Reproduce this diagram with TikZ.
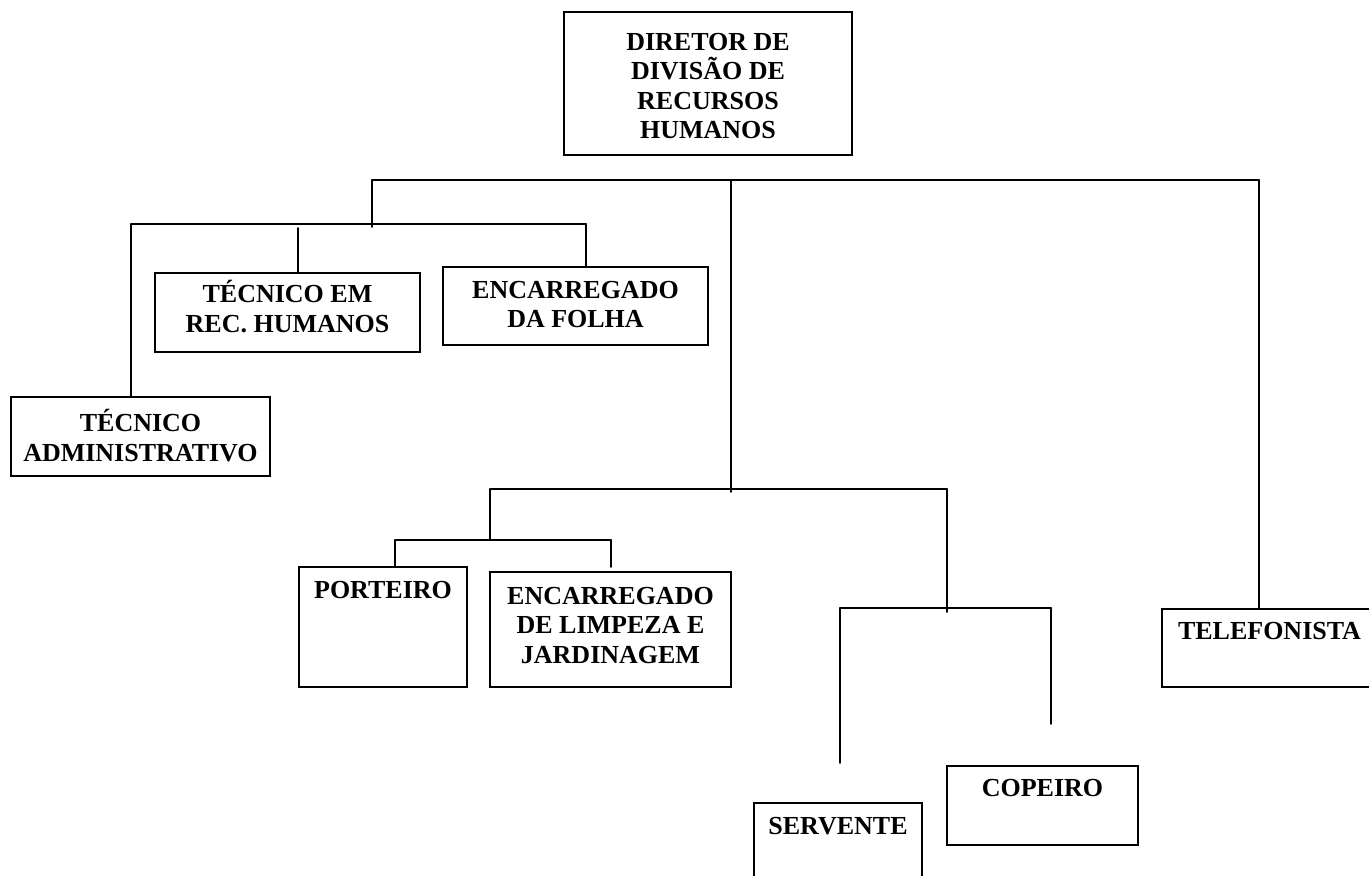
\documentclass[tikz,border=0pt]{standalone}
\usepackage{fontspec}
\setmainfont{Liberation Serif}
\usepackage{pgf,tikz}
\usetikzlibrary{positioning}
\tikzset{
  caixa/.style={draw,line width=1.9pt,inner sep=0pt},
  texto/.style={inner sep=0pt,align=center,font=\fontsize{26}{29.5}\selectfont\bfseries},
  linha/.style={line width=1.7pt}
}

\begin{document}
\begin{tikzpicture}[line cap=round,x=1pt,y=-1pt]
\useasboundingbox (0,0) rectangle (1369,876);
%caixas
\foreach \nome/\cx/\cy/\lx/\ly in {dir/708/83.5/288/143, tec/287.5/312.5/265/79, folha/575.5/306/265/78, adm/140.5/436.5/259/79, port/383/627/168/120, limp/610.5/629.5/241/115, serv/838/863/168/120, cope/1042.5/805.5/191/79, tel/1269.5/648/215/78}
{
\node[caixa,minimum width=\lx pt,minimum height=\ly pt] (\nome) at (\cx,\cy) {};
}

%textos
\node[texto,below=22pt of dir.north] (dirT) {DIRETOR DE\\DIVISÃO DE\\RECURSOS\\HUMANOS};
\node[texto,below=8pt of tec.north] (tecT) {TÉCNICO EM\\REC. HUMANOS};
\node[texto,below=15pt of folha.north] (folhaT) {ENCARREGADO\\DA FOLHA};
\node[texto,below=13pt of adm.north] (admT) {TÉCNICO\\ADMINISTRATIVO};
\node[texto,below=15pt of port.north] (portT) {PORTEIRO};
\node[texto,below=16pt of limp.north] (limpT) {ENCARREGADO\\DE LIMPEZA E\\JARDINAGEM};
\node[texto,below=14pt of tel.north] (telT) {TELEFONISTA};
\node[texto,below=14pt of cope.north] (copeT) {COPEIRO};
\node[texto,below=15pt of serv.north] (servT) {SERVENTE};

%ramo de cima
\coordinate (topoE) at (372,180);
\coordinate (topoM) at (731,180);
\coordinate (topoD) at (1259,180);
\draw[linha] (topoE) -- (topoD);
\draw[linha] (topoD) -- (topoD |- tel.north);

%ramo da esquerda
\coordinate (esqM) at (372,227);
\coordinate (esqE) at (131,224);
\coordinate (esqD) at (586,224);
\coordinate (tecC) at (298,228);
\draw[linha] (topoE) -- (esqM);
\draw[linha] (esqE) -- (esqD);
\draw[linha] (esqE) -- (esqE |- adm.north);
\draw[linha] (esqD) -- (esqD |- folha.north);
\draw[linha] (tecC) -- (tecC |- tec.north);

%ramo do meio
\coordinate (meioB) at (731,492);
\coordinate (meioE) at (490,489);
\coordinate (meioD) at (947,489);
\draw[linha] (topoM) -- (meioB);
\draw[linha] (meioE) -- (meioD);
\coordinate (portE) at (395,540);
\coordinate (portD) at (611,540);
\coordinate (limpC) at (611,567);
\draw[linha] (meioE) -- (meioE |- portE);
\draw[linha] (portE) -- (portD);
\draw[linha] (portE) -- (portE |- port.north);
\draw[linha] (portD) -- (limpC);

%servente e copeiro
\coordinate (meioD2) at (947,612);
\coordinate (copE) at (840,608);
\coordinate (copD) at (1051,608);
\coordinate (servC) at (840,763);
\coordinate (copC) at (1051,724);
\draw[linha] (meioD) -- (meioD2);
\draw[linha] (copE) -- (copD);
\draw[linha] (copE) -- (servC);
\draw[linha] (copD) -- (copC);
\end{tikzpicture}
\end{document}
